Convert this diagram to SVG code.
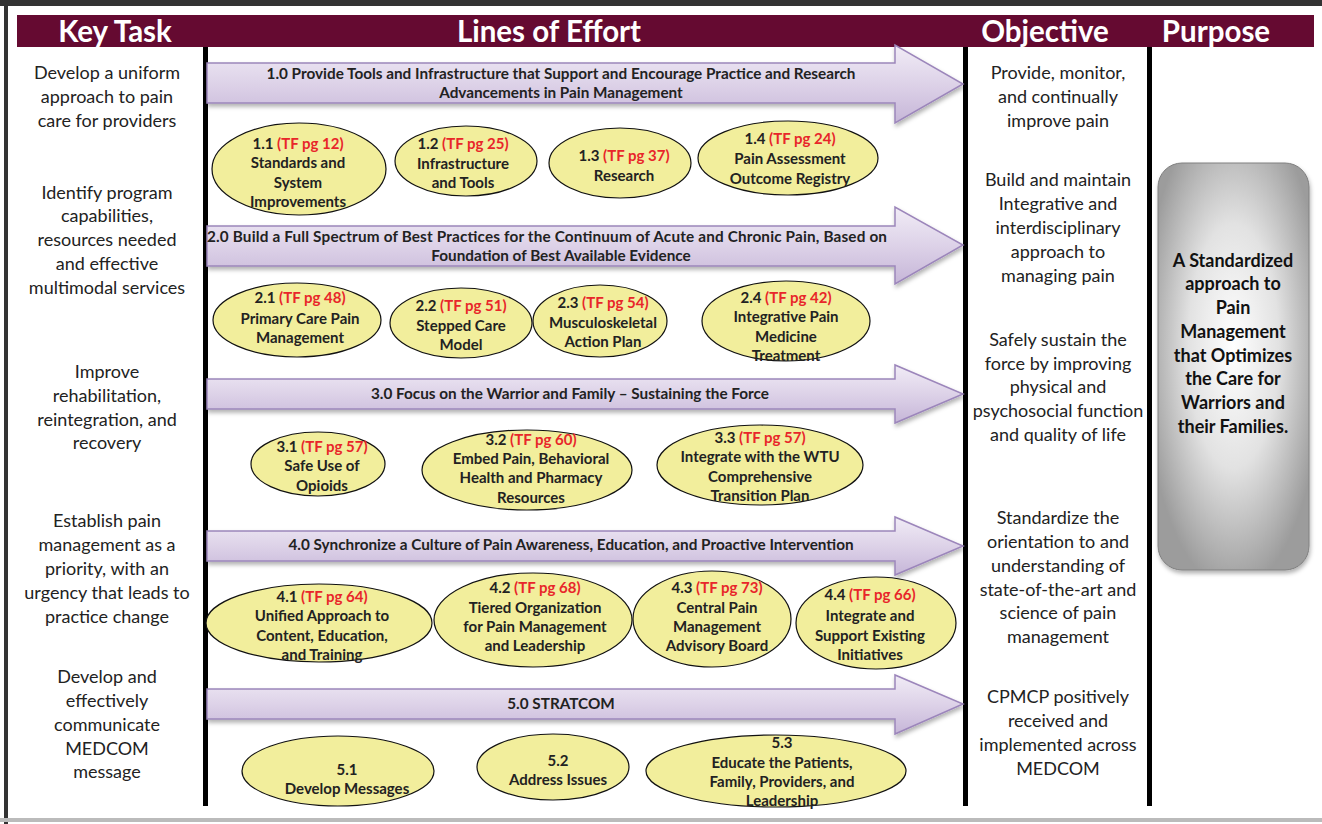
<svg xmlns="http://www.w3.org/2000/svg" width="1322" height="824" viewBox="0 0 1322 824">
<defs>
<linearGradient id="arrowFill" x1="0" y1="0" x2="0" y2="1">
<stop offset="0" stop-color="#f1ecf6"/>
<stop offset="0.5" stop-color="#ddd2e8"/>
<stop offset="1" stop-color="#c6b6d8"/>
</linearGradient>
<radialGradient id="purposeFill" cx="0.5" cy="0.45" r="0.6">
<stop offset="0" stop-color="#ffffff"/>
<stop offset="0.5" stop-color="#e2e2e2"/>
<stop offset="1" stop-color="#9c9c9c"/>
</radialGradient>
<filter id="shadow" x="-5%" y="-20%" width="110%" height="150%">
<feDropShadow dx="1" dy="3" stdDeviation="2" flood-color="#000" flood-opacity="0.3"/>
</filter>
</defs>
<style>
.hdr{font-family:Lato,"Open Sans",sans-serif;font-weight:bold;font-size:29.5px;fill:#fff;text-anchor:middle}
.side{font-family:Lato,"Open Sans",sans-serif;font-size:18px;fill:#222;text-anchor:middle}
.arr{fill:url(#arrowFill);stroke:#9c86bb;stroke-width:1.5;filter:url(#shadow)}
.at{font-family:Lato,"Open Sans",sans-serif;font-weight:bold;font-size:15.3px;fill:#222;text-anchor:middle}
.ell{fill:#f2ee9c;stroke:#111;stroke-width:1.2}
.et{font-family:Lato,"Open Sans",sans-serif;font-weight:bold;font-size:15px;fill:#222;text-anchor:middle}
.red{fill:#e8262a}
.vl{stroke:#000;stroke-width:5}
.pt{font-family:Lato,"Open Sans",sans-serif;font-weight:bold;font-size:18px;fill:#111;text-anchor:middle}
</style>
<rect x="0" y="0" width="1322" height="824" fill="#fff"/>
<rect x="0" y="0" width="1322" height="6" fill="#333"/>
<rect x="4" y="0" width="4" height="824" fill="#333"/>
<rect x="0" y="818" width="1322" height="4" fill="#bbb"/>
<g id="header">
<rect x="17" y="15" width="1297" height="32" fill="#650a31"/>
<text class="hdr" x="115" y="42">Key Task</text>
<text class="hdr" x="549" y="42">Lines of Effort</text>
<text class="hdr" x="1045" y="42">Objective</text>
<text class="hdr" x="1216" y="42">Purpose</text>
</g>
<g id="columns">
<line class="vl" x1="205.5" y1="47" x2="205.5" y2="806"/>
<line class="vl" x1="965.5" y1="47" x2="965.5" y2="806"/>
<line class="vl" x1="1149.5" y1="47" x2="1149.5" y2="806"/>
</g>
<g id="key-tasks">
<text class="side"><tspan x="107" y="79">Develop a uniform</tspan><tspan x="107" y="103">approach to pain</tspan><tspan x="107" y="127">care for providers</tspan></text>
<text class="side"><tspan x="107" y="199">Identify program</tspan><tspan x="107" y="222">capabilities,</tspan><tspan x="107" y="246">resources needed</tspan><tspan x="107" y="270">and effective</tspan><tspan x="107" y="294">multimodal services</tspan></text>
<text class="side"><tspan x="107" y="378">Improve</tspan><tspan x="107" y="402">rehabilitation,</tspan><tspan x="107" y="426">reintegration, and</tspan><tspan x="107" y="449">recovery</tspan></text>
<text class="side"><tspan x="107" y="527">Establish pain</tspan><tspan x="107" y="551">management as a</tspan><tspan x="107" y="575">priority, with an</tspan><tspan x="107" y="599">urgency that leads to</tspan><tspan x="107" y="623">practice change</tspan></text>
<text class="side"><tspan x="107" y="683">Develop and</tspan><tspan x="107" y="707">effectively</tspan><tspan x="107" y="731">communicate</tspan><tspan x="107" y="755">MEDCOM</tspan><tspan x="107" y="778">message</tspan></text>
</g>
<g id="objectives">
<text class="side"><tspan x="1058" y="79">Provide, monitor,</tspan><tspan x="1058" y="103">and continually</tspan><tspan x="1058" y="127">improve pain</tspan></text>
<text class="side"><tspan x="1058" y="186">Build and maintain</tspan><tspan x="1058" y="210">Integrative and</tspan><tspan x="1058" y="234">interdisciplinary</tspan><tspan x="1058" y="258">approach to</tspan><tspan x="1058" y="282">managing pain</tspan></text>
<text class="side"><tspan x="1058" y="346">Safely sustain the</tspan><tspan x="1058" y="370">force by improving</tspan><tspan x="1058" y="393">physical and</tspan><tspan x="1058" y="417">psychosocial function</tspan><tspan x="1058" y="441">and quality of life</tspan></text>
<text class="side"><tspan x="1058" y="524">Standardize the</tspan><tspan x="1058" y="548">orientation to and</tspan><tspan x="1058" y="572">understanding of</tspan><tspan x="1058" y="596">state-of-the-art and</tspan><tspan x="1058" y="619">science of pain</tspan><tspan x="1058" y="643">management</tspan></text>
<text class="side"><tspan x="1058" y="703">CPMCP positively</tspan><tspan x="1058" y="727">received and</tspan><tspan x="1058" y="751">implemented across</tspan><tspan x="1058" y="775">MEDCOM</tspan></text>
</g>
<g id="purpose">
<rect x="1158" y="163" width="151" height="407" rx="24" fill="url(#purposeFill)" stroke="#808080" stroke-width="1" filter="url(#shadow)"/>
<text class="pt"><tspan x="1233" y="267">A Standardized</tspan><tspan x="1233" y="290">approach to</tspan><tspan x="1233" y="314">Pain</tspan><tspan x="1233" y="338">Management</tspan><tspan x="1233" y="362">that Optimizes</tspan><tspan x="1233" y="385">the Care for</tspan><tspan x="1233" y="409">Warriors and</tspan><tspan x="1233" y="433">their Families.</tspan></text>
</g>
<g id="connectors">
<g id="loe1"><path class="arr" d="M207,63 H895 V45 L963,84 L895,123 V103 H207 Z"/>
<text class="at"><tspan x="561" y="79">1.0  Provide Tools and Infrastructure that Support and Encourage Practice and Research</tspan><tspan x="561" y="98">Advancements in Pain Management</tspan></text></g>
<g id="loe2"><path class="arr" d="M207,226 H895 V207 L963,245 L895,284 V266 H207 Z"/>
<text class="at"><tspan x="547" y="242" textLength="680" lengthAdjust="spacing">2.0 Build a Full Spectrum of Best Practices for the Continuum of Acute and Chronic Pain, Based on</tspan><tspan x="561" y="261">Foundation of Best Available Evidence</tspan></text></g>
<g id="loe3"><path class="arr" d="M207,379 H895 V365 L963,394 L895,423 V409 H207 Z"/>
<text class="at" x="570" y="399">3.0 Focus on the Warrior and Family – Sustaining the Force</text></g>
<g id="loe4"><path class="arr" d="M207,531 H895 V517 L963,546 L895,575 V561 H207 Z"/>
<text class="at" x="571" y="550">4.0 Synchronize a Culture of Pain Awareness, Education, and Proactive Intervention</text></g>
<g id="loe5"><path class="arr" d="M207,689 H895 V675 L963,704 L895,734 V719 H207 Z"/>
<text class="at" x="561" y="709">5.0 STRATCOM</text></g>
</g>
<g id="n1-1"><ellipse class="ell" cx="299" cy="169" rx="87" ry="46"/><text class="et"><tspan x="298" y="149">1.1 <tspan class="red">(TF pg 12)</tspan></tspan><tspan x="298" y="168">Standards and</tspan><tspan x="298" y="188">System</tspan><tspan x="298" y="207">Improvements</tspan></text></g>
<g id="n1-2"><ellipse class="ell" cx="466" cy="161" rx="71" ry="35"/><text class="et"><tspan x="463" y="149">1.2 <tspan class="red">(TF pg 25)</tspan></tspan><tspan x="463" y="169">Infrastructure</tspan><tspan x="463" y="188">and Tools</tspan></text></g>
<g id="n1-3"><ellipse class="ell" cx="620" cy="163" rx="71" ry="35"/><text class="et"><tspan x="624" y="161">1.3 <tspan class="red">(TF pg 37)</tspan></tspan><tspan x="624" y="181">Research</tspan></text></g>
<g id="n1-4"><ellipse class="ell" cx="788" cy="158" rx="90" ry="37"/><text class="et"><tspan x="790" y="144">1.4 <tspan class="red">(TF pg 24)</tspan></tspan><tspan x="790" y="164">Pain Assessment</tspan><tspan x="790" y="184">Outcome Registry</tspan></text></g>
<g id="n2-1"><ellipse class="ell" cx="297" cy="320" rx="84" ry="37"/><text class="et"><tspan x="300" y="303">2.1 <tspan class="red">(TF pg 48)</tspan></tspan><tspan x="300" y="324">Primary Care Pain</tspan><tspan x="300" y="343">Management</tspan></text></g>
<g id="n2-2"><ellipse class="ell" cx="461" cy="323" rx="71" ry="35"/><text class="et"><tspan x="461" y="311">2.2 <tspan class="red">(TF pg 51)</tspan></tspan><tspan x="461" y="331">Stepped Care</tspan><tspan x="461" y="350">Model</tspan></text></g>
<g id="n2-3"><ellipse class="ell" cx="600" cy="321" rx="67" ry="36"/><text class="et"><tspan x="603" y="308">2.3 <tspan class="red">(TF pg 54)</tspan></tspan><tspan x="603" y="328">Musculoskeletal</tspan><tspan x="603" y="347">Action Plan</tspan></text></g>
<g id="n2-4"><ellipse class="ell" cx="786" cy="321" rx="84" ry="40"/><text class="et"><tspan x="786" y="303">2.4 <tspan class="red">(TF pg 42)</tspan></tspan><tspan x="786" y="322">Integrative Pain</tspan><tspan x="786" y="342">Medicine</tspan><tspan x="786" y="361">Treatment</tspan></text></g>
<g id="n3-1"><ellipse class="ell" cx="318" cy="464" rx="67" ry="32"/><text class="et"><tspan x="322" y="452">3.1 <tspan class="red">(TF pg 57)</tspan></tspan><tspan x="322" y="471">Safe Use of</tspan><tspan x="322" y="491">Opioids</tspan></text></g>
<g id="n3-2"><ellipse class="ell" cx="527" cy="470" rx="105" ry="40"/><text class="et"><tspan x="531" y="445">3.2 <tspan class="red">(TF pg 60)</tspan></tspan><tspan x="531" y="464">Embed Pain, Behavioral</tspan><tspan x="531" y="483">Health  and Pharmacy</tspan><tspan x="531" y="503">Resources</tspan></text></g>
<g id="n3-3"><ellipse class="ell" cx="760" cy="465" rx="103" ry="40"/><text class="et"><tspan x="760" y="443">3.3 <tspan class="red">(TF pg 57)</tspan></tspan><tspan x="760" y="462">Integrate with the WTU</tspan><tspan x="760" y="482">Comprehensive</tspan><tspan x="760" y="501">Transition Plan</tspan></text></g>
<g id="n4-1"><ellipse class="ell" cx="319" cy="623" rx="113" ry="39"/><text class="et"><tspan x="322" y="602">4.1 <tspan class="red">(TF pg 64)</tspan></tspan><tspan x="322" y="621">Unified Approach to</tspan><tspan x="322" y="641">Content, Education,</tspan><tspan x="322" y="660">and Training</tspan></text></g>
<g id="n4-2"><ellipse class="ell" cx="533" cy="620" rx="99" ry="47"/><text class="et"><tspan x="535" y="593">4.2 <tspan class="red">(TF pg 68)</tspan></tspan><tspan x="535" y="613">Tiered Organization</tspan><tspan x="535" y="632">for Pain Management</tspan><tspan x="535" y="651">and Leadership</tspan></text></g>
<g id="n4-3"><ellipse class="ell" cx="712" cy="619" rx="79" ry="48"/><text class="et"><tspan x="717" y="593">4.3 <tspan class="red">(TF pg 73)</tspan></tspan><tspan x="717" y="613">Central Pain</tspan><tspan x="717" y="632">Management</tspan><tspan x="717" y="651">Advisory Board</tspan></text></g>
<g id="n4-4"><ellipse class="ell" cx="876" cy="623" rx="80" ry="46"/><text class="et"><tspan x="870" y="600">4.4 <tspan class="red">(TF pg 66)</tspan></tspan><tspan x="870" y="621">Integrate and</tspan><tspan x="870" y="641">Support Existing</tspan><tspan x="870" y="660">Initiatives</tspan></text></g>
<g id="n5-1"><ellipse class="ell" cx="338" cy="771" rx="96" ry="35"/><text class="et"><tspan x="347" y="775">5.1</tspan><tspan x="347" y="794">Develop Messages</tspan></text></g>
<g id="n5-2"><ellipse class="ell" cx="553" cy="767" rx="76" ry="33"/><text class="et"><tspan x="558" y="766">5.2</tspan><tspan x="558" y="785">Address Issues</tspan></text></g>
<g id="n5-3"><ellipse class="ell" cx="776" cy="771" rx="130" ry="36"/><text class="et"><tspan x="782" y="748">5.3</tspan><tspan x="782" y="768">Educate the Patients,</tspan><tspan x="782" y="787">Family,  Providers, and</tspan><tspan x="782" y="806">Leadership</tspan></text></g>
</svg>
